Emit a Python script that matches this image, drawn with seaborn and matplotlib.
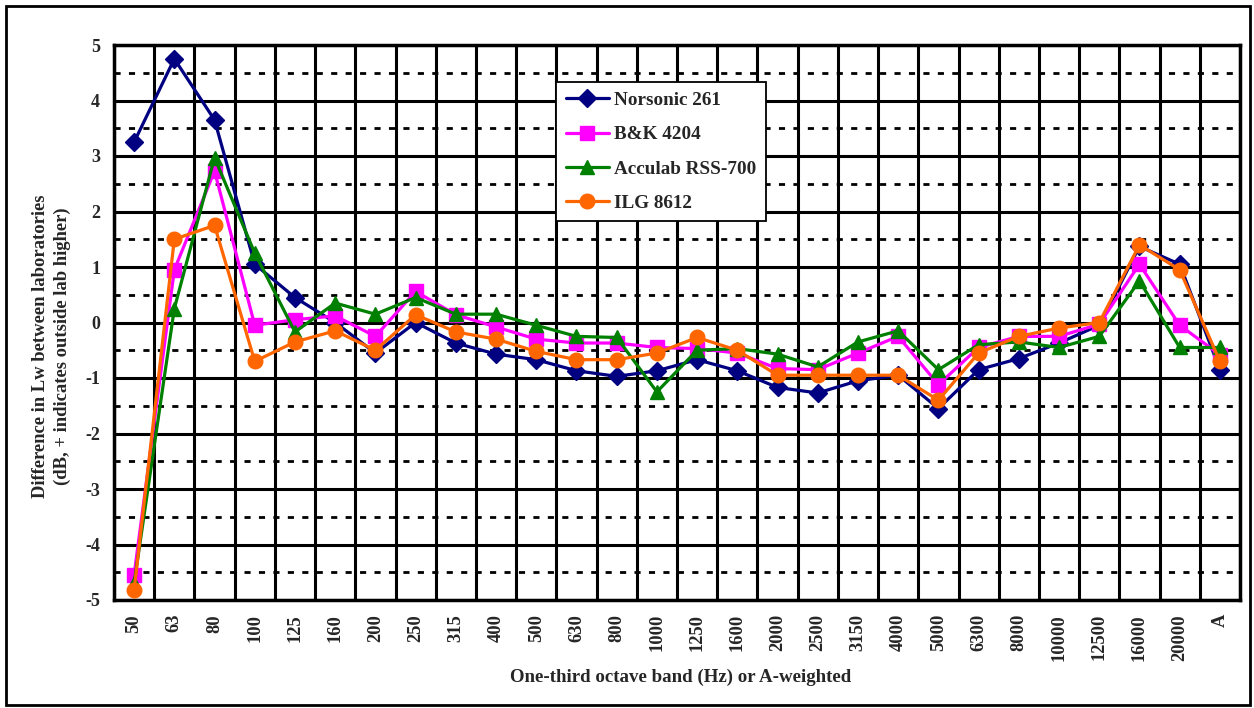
import numpy as np
import pandas as pd
import matplotlib
matplotlib.use("Agg")
import matplotlib.pyplot as plt
from matplotlib.patches import Rectangle
from matplotlib.ticker import FixedLocator, NullFormatter
import seaborn as sns

bands = ['50', '63', '80', '100', '125', '160', '200', '250', '315', '400', '500', '630',
         '800', '1000', '1250', '1600', '2000', '2500', '3150', '4000', '5000', '6300',
         '8000', '10000', '12500', '16000', '20000', 'A']

norsonic = [3.25, 4.75, 3.65, 1.05, 0.45, 0.0, -0.55, 0.0, -0.37, -0.57, -0.67, -0.87,
            -0.97, -0.87, -0.67, -0.87, -1.17, -1.27, -1.05, -0.95, -1.55, -0.85,
            -0.65, -0.37, -0.05, 1.37, 1.05, -0.85]
bk4204 = [-4.55, 0.95, 2.73, -0.05, 0.05, 0.12, -0.25, 0.56, 0.14, -0.08, -0.30, -0.37,
          -0.37, -0.45, -0.47, -0.55, -0.83, -0.85, -0.55, -0.25, -1.12, -0.45,
          -0.25, -0.25, -0.03, 1.05, -0.05, -0.58]
acculab = [-4.70, 0.25, 2.97, 1.25, -0.17, 0.35, 0.15, 0.45, 0.15, 0.15, -0.05, -0.25,
           -0.27, -1.25, -0.50, -0.47, -0.57, -0.80, -0.35, -0.15, -0.85, -0.40,
           -0.35, -0.45, -0.25, 0.75, -0.45, -0.45]
ilg8612 = [-4.82, 1.50, 1.75, -0.70, -0.35, -0.15, -0.50, 0.14, -0.17, -0.30, -0.52, -0.67,
           -0.67, -0.55, -0.27, -0.50, -0.95, -0.95, -0.95, -0.95, -1.40, -0.55,
           -0.25, -0.10, 0.0, 1.40, 0.95, -0.70]

series_names = ['Norsonic 261', 'B&K 4204', 'Acculab RSS-700', 'ILG 8612']
series_values = [norsonic, bk4204, acculab, ilg8612]
series_colors = ['#000080', '#FF00FF', '#008000', '#FF6600']
series_markers = ['D', 's', '^', 'o']
series_msize = [9.5, 10, 10, 10.5]

sns.set_theme(style="white")
plt.rcParams['font.family'] = ['Liberation Serif', 'DejaVu Serif']
plt.rcParams['font.weight'] = 'bold'

fig = plt.figure(figsize=(12.54, 7.08), dpi=100)
ax = fig.add_axes([114 / 1254, 1 - 600 / 708, (1240 - 114) / 1254, (600 - 45) / 708])

for name, vals, col, mk, ms in zip(series_names, series_values, series_colors,
                                   series_markers, series_msize):
    df = pd.DataFrame({'band': bands, 'value': vals})
    sns.lineplot(data=df, x='band', y='value', ax=ax, sort=False, color=col,
                 linewidth=2.3, marker=mk, markersize=ms, markeredgecolor=col,
                 markeredgewidth=1, label=name, zorder=5)

n = len(bands)
ax.set_xlim(-0.5, n - 0.5)
ax.set_ylim(-5, 5)

# x: major ticks at boundaries (grid), minor at centres (labels)
ax.xaxis.set_major_locator(FixedLocator(np.arange(-0.5, n, 1.0)))
ax.xaxis.set_major_formatter(NullFormatter())
ax.set_xticks(np.arange(n), labels=bands, minor=True)
ax.tick_params(axis='x', which='major', direction='out', length=7, width=2, color='black')
ax.tick_params(axis='x', which='minor', direction='out', length=5, width=2, color='black',
               labelrotation=90, labelsize=13.3, pad=5)
for lbl in ax.get_xticklabels(minor=True):
    lbl.set_fontweight('bold')
    lbl.set_va('top')

ax.set_yticks(np.arange(-5, 6, 1))
ax.set_yticklabels([str(v) for v in range(-5, 6)], fontsize=13, fontweight='bold')
ax.set_yticks(np.arange(-4.5, 5, 1.0), minor=True)
ax.tick_params(axis='y', which='major', direction='out', length=6, width=2, color='black', pad=4)
ax.tick_params(axis='y', which='minor', length=0)

ax.grid(False)
ax.xaxis.grid(True, which='major', color='black', linewidth=2.2, linestyle='-')
ax.yaxis.grid(True, which='major', color='black', linewidth=2.2, linestyle='-')
ax.yaxis.grid(True, which='minor', color='black', linewidth=2.0, linestyle=(0, (2.2, 3.0)))
ax.set_axisbelow(True)
for sp in ax.spines.values():
    sp.set_visible(True)
    sp.set_color('black')
    sp.set_linewidth(2.5)

ax.set_xlabel('One-third octave band (Hz) or A-weighted', fontsize=13.6,
              fontweight='bold', labelpad=0)
ax.xaxis.set_label_coords((681 - 114) / 1126, -(669 - 600) / 555)
ax.set_ylabel('Difference in Lw between laboratories\n(dB, + indicates outside lab higher)',
              fontsize=13.4, fontweight='bold', linespacing=1.38)
ax.yaxis.set_label_coords(-(114 - 71) / 1126, (600 - 346) / 555)

leg = ax.legend(loc='upper left', bbox_to_anchor=((556 - 114) / 1126, (600 - 82) / 555),
                borderaxespad=0, frameon=True, fancybox=False, framealpha=1,
                edgecolor='black', prop={'family': 'Liberation Serif', 'weight': 'bold',
                                         'size': 13.8},
                handlelength=2.25, handletextpad=0.3, labelspacing=0.88,
                borderpad=0.5)
leg.get_frame().set_linewidth(1.3)

fig.patches.append(Rectangle((6 / 1254, 3 / 708), 1244 / 1254, 699 / 708,
                             transform=fig.transFigure, fill=False,
                             edgecolor='black', linewidth=2))

fig.savefig('out.png', dpi=100, facecolor='white')
